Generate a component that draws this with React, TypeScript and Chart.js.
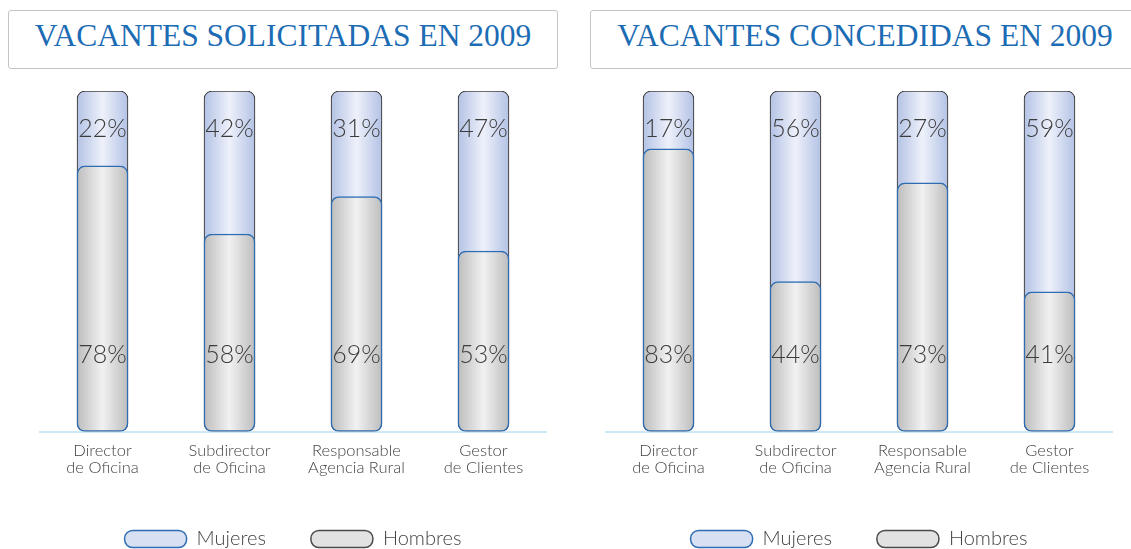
import React, { useEffect, useRef } from "react";
import { Chart, registerables } from "chart.js";

Chart.register(...registerables);

const categories: string[][] = [
  ["Director", "de Oficina"],
  ["Subdirector", "de Oficina"],
  ["Responsable", "Agencia Rural"],
  ["Gestor", "de Clientes"],
];

const solicitadasMujeres = [22, 42, 31, 47];
const solicitadasHombres = [78, 58, 69, 53];
const concedidasMujeres = [17, 56, 27, 59];
const concedidasHombres = [83, 44, 73, 41];

const seriesNames = ["Mujeres", "Hombres"];
const titles = ["VACANTES SOLICITADAS EN 2009", "VACANTES CONCEDIDAS EN 2009"];

const FONT = "Lato, 'Open Sans', sans-serif";
const BAR_W = 51;

function gradient(chart: any, idx: number, edge: string, mid: string, fallback: string) {
  const xs = chart.scales && chart.scales.x;
  if (idx === undefined || !xs || !chart.chartArea) return fallback;
  const x = xs.getPixelForValue(idx);
  const g = chart.ctx.createLinearGradient(x - BAR_W / 2, 0, x + BAR_W / 2, 0);
  g.addColorStop(0, edge);
  g.addColorStop(0.5, mid);
  g.addColorStop(1, edge);
  return g;
}

const labelPlugin = {
  id: "fixedLabels",
  afterDatasetsDraw(chart: any) {
    const { ctx } = chart;
    const xs = chart.scales.x;
    const ys = chart.scales.y;
    const mujeres: number[] = chart.options.plugins.fixedLabels.mujeres;
    const hombres: number[] = chart.options.plugins.fixedLabels.hombres;
    ctx.save();
    ctx.font = `300 25px ${FONT}`;
    ctx.fillStyle = "#3c3c3c";
    ctx.textAlign = "center";
    ctx.textBaseline = "middle";
    mujeres.forEach((v, i) => {
      ctx.fillText(v + "%", xs.getPixelForValue(i), ys.getPixelForValue(89));
    });
    hombres.forEach((v, i) => {
      ctx.fillText(v + "%", xs.getPixelForValue(i), ys.getPixelForValue(22.6));
    });
    ctx.restore();
  },
};

function PanelChart({ left, mujeres, hombres }: { left: number; mujeres: number[]; hombres: number[] }) {
  const ref = useRef<HTMLCanvasElement>(null);
  useEffect(() => {
    const chart = new Chart(ref.current!, {
      type: "bar",
      data: {
        labels: categories,
        datasets: [
          {
            label: seriesNames[1],
            data: hombres,
            backgroundColor: (c: any) => gradient(c.chart, c.dataIndex, "#bdbdbd", "#f1f1f1", "#d9d9d9"),
            borderColor: "#2f6db2",
            borderWidth: 1.5,
            borderRadius: 8,
            borderSkipped: false,
            barThickness: BAR_W,
          } as any,
          {
            label: seriesNames[0],
            data: mujeres.map((m, i) => [0, hombres[i] + m]),
            backgroundColor: (c: any) => gradient(c.chart, c.dataIndex, "#b3c2e5", "#eef1fa", "#d4dcf1"),
            borderColor: "#444444",
            borderWidth: 1.2,
            borderRadius: 8,
            borderSkipped: false,
            barThickness: BAR_W,
          } as any,
        ],
      },
      options: {
        animation: false,
        responsive: false,
        devicePixelRatio: 1,
        layout: { padding: { top: 91, bottom: 0, left: 0, right: 0 } },
        scales: {
          x: {
            stacked: true,
            grid: { display: false, drawTicks: false },
            border: { display: true, color: "#cfe8f6", width: 2 },
            ticks: {
              color: "#444444",
              font: { family: FONT, size: 16.5, weight: "300" as any, lineHeight: 1.02 },
              padding: 11,
              maxRotation: 0,
              autoSkip: false,
            },
            afterFit: (s: any) => {
              s.height = 52.5;
            },
          },
          y: {
            display: false,
            stacked: false,
            min: 0,
            max: 100,
          },
        },
        plugins: {
          tooltip: { enabled: false },
          legend: {
            position: "bottom",
            labels: {
              boxWidth: 62,
              boxHeight: 17,
              padding: 45,
              color: "#444444",
              font: { family: FONT, size: 20, weight: "300" as any },
              useBorderRadius: true,
              borderRadius: 8,
              generateLabels: () => [
                {
                  text: seriesNames[0],
                  fillStyle: "#d8e0f3",
                  strokeStyle: "#2f6db2",
                  lineWidth: 1.5,
                  borderRadius: 8,
                  datasetIndex: 1,
                  hidden: false,
                  fontColor: "#444444",
                },
                {
                  text: seriesNames[1],
                  fillStyle: "#e2e2e2",
                  strokeStyle: "#4a4a4a",
                  lineWidth: 1.5,
                  borderRadius: 8,
                  datasetIndex: 0,
                  hidden: false,
                  fontColor: "#444444",
                },
              ],
            },
          },
          fixedLabels: { mujeres, hombres },
        } as any,
      },
      plugins: [labelPlugin],
    } as any);
    return () => chart.destroy();
  }, []);
  return (
    <div style={{ position: "absolute", left, top: 0 }}>
      <canvas ref={ref} width={508} height={559} style={{ width: 508, height: 559, display: "block" }} />
    </div>
  );
}

function TitleBox({ left, text }: { left: number; text: string }) {
  return (
    <div
      style={{
        position: "absolute",
        left,
        top: 10,
        width: 550,
        height: 59,
        border: "1px solid #c4c4c4",
        borderRadius: 3,
        display: "flex",
        alignItems: "center",
        justifyContent: "center",
        paddingBottom: 7,
        fontFamily: "'Liberation Serif', 'DejaVu Serif', serif",
        fontSize: 31.5,
        color: "#1c6cb4",
        whiteSpace: "nowrap",
        boxSizing: "border-box",
      }}
    >
      {text}
    </div>
  );
}

export default function App() {
  return (
    <div
      style={{
        position: "fixed",
        left: 0,
        top: 0,
        width: 1131,
        height: 549,
        overflow: "hidden",
        background: "#ffffff",
      }}
    >
      <TitleBox left={8} text={titles[0]} />
      <TitleBox left={590} text={titles[1]} />
      <PanelChart left={39} mujeres={solicitadasMujeres} hombres={solicitadasHombres} />
      <PanelChart left={605} mujeres={concedidasMujeres} hombres={concedidasHombres} />
    </div>
  );
}
